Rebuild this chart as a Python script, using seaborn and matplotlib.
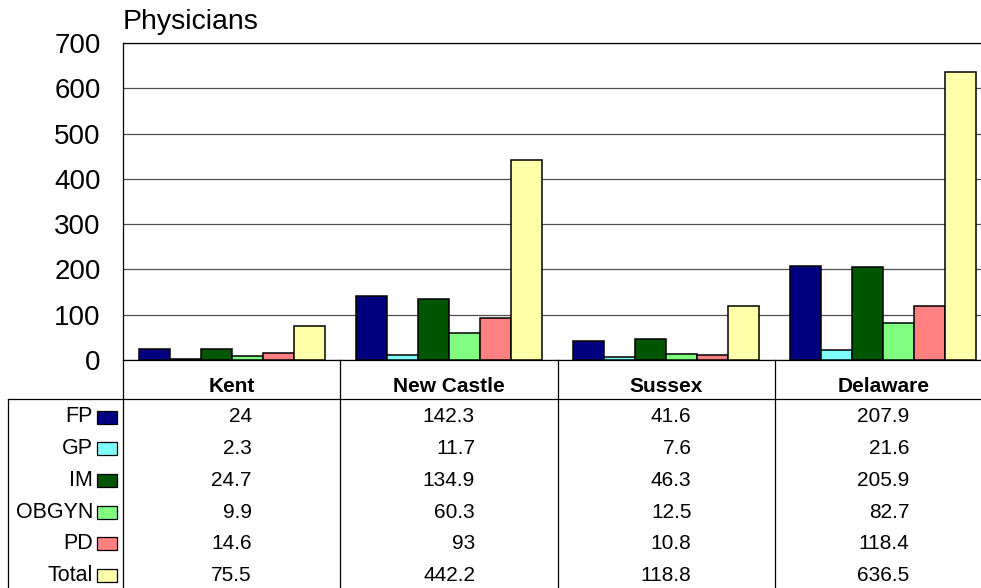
import matplotlib
matplotlib.use("Agg")
import matplotlib.pyplot as plt
from matplotlib.lines import Line2D
from matplotlib.patches import Rectangle
import seaborn as sns
import pandas as pd

# ---- data ----
regions = ["Kent", "New Castle", "Sussex", "Delaware"]
specialties = ["FP", "GP", "IM", "OBGYN", "PD", "Total"]
fp = [24, 142.3, 41.6, 207.9]
gp = [2.3, 11.7, 7.6, 21.6]
im = [24.7, 134.9, 46.3, 205.9]
obgyn = [9.9, 60.3, 12.5, 82.7]
pd_vals = [14.6, 93, 10.8, 118.4]
total = [75.5, 442.2, 118.8, 636.5]
value_labels = {
    "FP": ["24", "142.3", "41.6", "207.9"],
    "GP": ["2.3", "11.7", "7.6", "21.6"],
    "IM": ["24.7", "134.9", "46.3", "205.9"],
    "OBGYN": ["9.9", "60.3", "12.5", "82.7"],
    "PD": ["14.6", "93", "10.8", "118.4"],
    "Total": ["75.5", "442.2", "118.8", "636.5"],
}
y_ticks = [0, 100, 200, 300, 400, 500, 600, 700]
colors = ["#000080", "#80FFFF", "#005500", "#80FF80", "#FF8080", "#FFFFAA"]

series = [fp, gp, im, obgyn, pd_vals, total]
rows = []
for sp, vals in zip(specialties, series):
    for r, v in zip(regions, vals):
        rows.append({"Region": r, "Specialty": sp, "Value": v})
df = pd.DataFrame(rows)

plt.rcParams["font.family"] = ["Liberation Sans", "DejaVu Sans"]

W, H = 981, 588
fig = plt.figure(figsize=(W / 100, H / 100), dpi=100)
fig.patch.set_facecolor("white")

def fx(px):
    return px / W

def fy(py):
    return 1 - py / H

ax_left, ax_right, ax_top, ax_bottom = 123, 992, 43, 360
ax = fig.add_axes([fx(ax_left), fy(ax_bottom), (ax_right - ax_left) / W,
                   (ax_bottom - ax_top) / H])

palette = dict(zip(specialties, colors))
sns.barplot(data=df, x="Region", y="Value", hue="Specialty", order=regions,
            hue_order=specialties, palette=palette, width=6 / 7,
            edgecolor="black", linewidth=1.1, legend=False, ax=ax, zorder=3,
            saturation=1)

ax.set_xlim(-0.5, 3.5)
ax.set_ylim(0, 700)
ax.set_yticks(y_ticks)
ax.set_yticklabels([str(t) for t in y_ticks], fontsize=20)
ax.tick_params(axis="y", length=0, pad=16)
ax.set_xticks([])
ax.set_xlabel("")
ax.set_ylabel("")
ax.yaxis.grid(True, color="#505050", linewidth=0.9, zorder=0)
ax.set_axisbelow(True)
for s in ax.spines.values():
    s.set_color("black")
    s.set_linewidth(0.9)

fig.text(fx(123), fy(22), "Physicians", fontsize=20.5, ha="left", va="center")

# ---- data table ----
lw = 0.9
line_kw = dict(color="black", linewidth=lw, transform=fig.transFigure)
fig.add_artist(Line2D([fx(123), fx(123)], [fy(360), 0], **line_kw))
xt = ax.get_xaxis_transform()
for xd in [0.5, 1.5, 2.5]:
    ax.add_line(Line2D([xd, xd], [0, -1.0], color="black", linewidth=lw,
                       transform=xt, clip_on=False))
fig.add_artist(Line2D([fx(8), 1], [fy(399), fy(399)], **line_kw))
fig.add_artist(Line2D([fx(8), fx(8)], [fy(399), 0], **line_kw))

head_y = (ax_bottom - 386) / (ax_bottom - ax_top)
for i, r in enumerate(regions):
    ax.text(i, head_y, r, transform=xt, ha="center", va="center",
            fontsize=15, fontweight="bold", clip_on=False)

row_y = [417 + 31.7 * k for k in range(len(specialties))]

for k, sp in enumerate(specialties):
    y = row_y[k]
    fig.text(fx(93), fy(y), sp, fontsize=15.5, ha="right", va="center")
    fig.add_artist(Rectangle((fx(97), fy(y + 6.5)), 20 / W, 13 / H,
                             facecolor=palette[sp], edgecolor="black",
                             linewidth=lw, transform=fig.transFigure))

fig.canvas.draw()
renderer = fig.canvas.get_renderer()
for i, r in enumerate(regions):
    cx = ax.transData.transform((i, 0))[0]
    texts = []
    for k, sp in enumerate(specialties):
        t = fig.text(0, fy(row_y[k]), value_labels[sp][i], fontsize=15,
                     ha="right", va="center")
        texts.append(t)
    maxw = max(t.get_window_extent(renderer).width for t in texts)
    for t in texts:
        t.set_x(fx(cx + maxw / 2))

fig.savefig("out.png", dpi=100, facecolor="white")
